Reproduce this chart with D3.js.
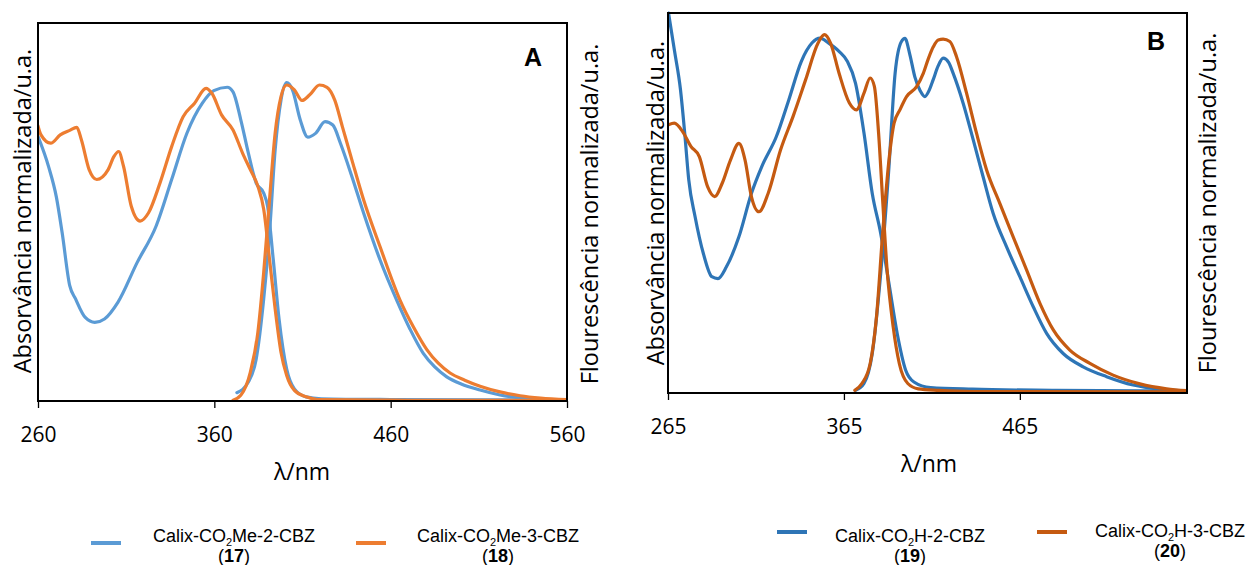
<!DOCTYPE html>
<html>
<head>
<meta charset="utf-8">
<script src="https://cdnjs.cloudflare.com/ajax/libs/d3/7.8.5/d3.min.js"></script>
<style>
  body { margin: 0; background: #fff; }
  svg { display: block; }
</style>
</head>
<body>
<div id="chart"></div>
<script>
// ---- data: [wavelength nm, normalized intensity] ----
// Panel A
var absA17 = [[260,0.70],[266,0.62],[270.4,0.54],[273.7,0.445],[278,0.305],[281.3,0.27],[286.8,0.221],[292.2,0.208],[297.7,0.217],[305.3,0.261],[316.2,0.366],[327,0.463],[335.8,0.586],[344.5,0.709],[353.2,0.788],[359.7,0.821],[367.3,0.83],[370.6,0.818],[375,0.744],[379.3,0.656],[383.7,0.577],[388,0.55],[390.2,0.515],[393.4,0.375],[396.7,0.217],[401,0.085],[405.4,0.032],[412,0.011],[420.7,0.006],[460,0.004],[520,0.003],[560,0.003]];
var fluA17 = [[372.8,0.022],[379.3,0.05],[383.7,0.11],[388,0.27],[391.3,0.445],[394.5,0.665],[397.8,0.796],[401,0.842],[404.3,0.823],[408.7,0.744],[413,0.698],[417.4,0.708],[422.8,0.739],[427.2,0.73],[431.5,0.682],[438,0.594],[444.6,0.498],[454,0.373],[463.4,0.267],[471,0.19],[478.5,0.126],[485,0.09],[491.8,0.064],[500,0.045],[510.7,0.029],[522,0.016],[533.4,0.008],[545,0.004],[560,0.002]];
var absA18 = [[260,0.728],[261.7,0.704],[267.2,0.682],[272.6,0.704],[278,0.716],[282,0.724],[284.6,0.691],[289,0.612],[293.3,0.586],[299.8,0.612],[303.1,0.647],[305.7,0.66],[308.5,0.621],[312.9,0.515],[317.9,0.476],[322.7,0.498],[329.2,0.577],[335.8,0.673],[342.3,0.752],[348.8,0.788],[355.3,0.827],[358.6,0.814],[364.1,0.757],[370.6,0.717],[376,0.656],[380.4,0.612],[384.7,0.568],[388,0.507],[391.3,0.375],[394.5,0.243],[397.8,0.129],[401,0.068],[405.4,0.028],[412,0.011],[418.5,0.004],[470,0.002],[560,0.002]];
var fluA18 = [[370.6,0.002],[375,0.015],[380.4,0.076],[384.7,0.182],[388,0.34],[391.3,0.533],[394.5,0.709],[397.8,0.805],[401,0.836],[405.4,0.823],[409.7,0.795],[414.1,0.81],[419.6,0.836],[423.9,0.83],[428.3,0.796],[432.6,0.726],[438,0.638],[444.6,0.533],[454,0.408],[465.3,0.267],[473,0.195],[480.5,0.136],[487,0.1],[493.7,0.074],[502,0.055],[510.7,0.039],[522,0.024],[533.4,0.014],[545,0.008],[560,0.004]];

// Panel B
var absB19 = [[265.3,1.0],[268.6,0.903],[272.1,0.798],[274.5,0.684],[276.8,0.561],[280.4,0.464],[285.1,0.367],[289.9,0.306],[293.4,0.301],[298.2,0.332],[305.3,0.411],[312.4,0.525],[318.3,0.596],[326.6,0.675],[333.7,0.772],[340.8,0.873],[346.8,0.921],[351.5,0.934],[356.2,0.921],[362.2,0.899],[366.9,0.873],[371.6,0.815],[376.4,0.684],[381.1,0.525],[385.9,0.42],[390.6,0.288],[395.3,0.156],[400.1,0.06],[404.8,0.029],[414.3,0.014],[438,0.01],[485.4,0.007],[560,0.005]];
var fluB19 = [[371.6,0.007],[376.4,0.025],[381.1,0.104],[385.9,0.315],[390.6,0.596],[394.1,0.842],[397.7,0.925],[399.7,0.933],[402.5,0.89],[405.3,0.832],[408.4,0.795],[411,0.78],[413.5,0.797],[415.7,0.824],[418.5,0.86],[421.4,0.881],[424.5,0.87],[427.1,0.841],[432.8,0.762],[438.5,0.666],[444.1,0.569],[449.8,0.473],[457.4,0.385],[465,0.306],[472.6,0.227],[480.2,0.157],[489.6,0.104],[501,0.069],[514.3,0.043],[529.4,0.021],[544.5,0.01],[560,0.005]];
var absB20 = [[265.3,0.706],[268.6,0.71],[273.3,0.688],[278,0.649],[282.8,0.622],[287.5,0.543],[291.5,0.517],[295.8,0.552],[300.5,0.613],[305.3,0.657],[308.8,0.613],[312.4,0.517],[316.7,0.477],[321.9,0.525],[329,0.64],[336.1,0.728],[343.2,0.824],[350.3,0.921],[353.9,0.943],[357.4,0.921],[362.2,0.842],[368.1,0.763],[372.1,0.745],[376.4,0.789],[379.9,0.829],[382.3,0.807],[384.7,0.684],[387,0.508],[389.4,0.332],[393,0.174],[396.5,0.077],[401.3,0.025],[407.2,0.011],[419,0.007],[438,0.004],[560,0.003]];
var fluB20 = [[371.2,0.007],[375.2,0.025],[379.9,0.077],[383.5,0.2],[387,0.42],[390.6,0.613],[393.5,0.71],[396.8,0.745],[400.6,0.78],[406.3,0.806],[410.1,0.841],[413,0.88],[415.8,0.911],[418.6,0.929],[421.4,0.931],[425.2,0.925],[429,0.885],[434.7,0.789],[440.4,0.683],[446.1,0.587],[453.6,0.499],[461.2,0.411],[468.8,0.324],[476.4,0.236],[484,0.166],[493.4,0.113],[504.8,0.078],[518,0.047],[533.2,0.024],[548.4,0.011],[560,0.006]];

var ticksA = [260, 360, 460, 560];
var ticksB = [265, 365, 465];

var svg = d3.select("#chart")
    .append("svg")
    .attr("width", 1250)
    .attr("height", 565);

var tickFont = "'Open Sans', 'DejaVu Sans', sans-serif";
var legFont = "'Liberation Sans', Arial, sans-serif";

function drawPanel(p) {
    var x = d3.scaleLinear().domain(p.domain).range([p.left, p.right]);
    var y = d3.scaleLinear().domain([0, 1]).range([p.bottom, p.top]);

    var line = d3.line()
        .x(d => x(d[0]))
        .y(d => y(d[1]))
        .curve(d3.curveMonotoneX);

    // curves (clipped to the box)
    var clipId = "clip" + p.name;
    svg.append("clipPath").attr("id", clipId)
        .append("rect")
        .attr("x", p.left).attr("y", p.top - 2)
        .attr("width", p.right - p.left).attr("height", p.bottom - p.top + 2);

    var g = svg.append("g").attr("clip-path", `url(#${clipId})`);
    p.series.forEach(function (s) {
        g.append("path")
            .datum(s.data)
            .attr("d", line)
            .attr("fill", "none")
            .attr("stroke", s.color)
            .attr("stroke-width", 3.2)
            .attr("stroke-linejoin", "round")
            .attr("stroke-linecap", "round");
    });

    // box
    svg.append("rect")
        .attr("x", p.left).attr("y", p.top)
        .attr("width", p.right - p.left).attr("height", p.bottom - p.top)
        .attr("fill", "none")
        .attr("stroke", "#000")
        .attr("stroke-width", 2);

    // x axis
    var axis = svg.append("g")
        .attr("transform", `translate(0, ${p.bottom})`)
        .call(d3.axisBottom(x).tickValues(p.ticks).tickSize(7).tickFormat(d3.format("d")));
    axis.select(".domain").remove();
    axis.selectAll(".tick line").attr("stroke", "#000").attr("stroke-width", 1.3);
    axis.selectAll(".tick text")
        .attr("y", 41).attr("dy", 0)
        .attr("font-family", tickFont)
        .attr("font-size", "21px")
        .attr("fill", "#000");

    svg.append("text")
        .attr("x", p.xTitleX).attr("y", p.bottom + 79)
        .attr("text-anchor", "middle")
        .attr("font-family", tickFont)
        .attr("font-size", "23px")
        .text("λ/nm");

    // y titles
    svg.append("text")
        .attr("transform", `translate(${p.left - p.leftGap}, ${p.yMid}) rotate(-90)`)
        .attr("text-anchor", "middle")
        .attr("font-family", tickFont)
        .attr("font-size", "23.5px")
        .text("Absorvância normalizada/u.a.");
    svg.append("text")
        .attr("transform", `translate(${p.right + p.rightGap}, ${p.yMid2}) rotate(-90)`)
        .attr("text-anchor", "middle")
        .attr("font-family", tickFont)
        .attr("font-size", "23.5px")
        .text("Flourescência normalizada/u.a.");

    // panel letter
    svg.append("text")
        .attr("x", p.letterX).attr("y", p.letterY)
        .attr("text-anchor", "middle")
        .attr("font-family", legFont)
        .attr("font-weight", "bold")
        .attr("font-size", "25px")
        .text(p.name);

    // legend
    p.legend.forEach(function (l) {
        svg.append("line")
            .attr("x1", l.lx).attr("x2", l.lx + 30)
            .attr("y1", l.ly).attr("y2", l.ly)
            .attr("stroke", l.color)
            .attr("stroke-width", 4);
        var t = svg.append("text")
            .attr("x", l.tx).attr("y", l.ty)
            .attr("text-anchor", "middle")
            .attr("font-family", legFont)
            .attr("font-size", "18px");
        t.append("tspan").text(l.pre);
        t.append("tspan").attr("font-size", "11px").attr("dy", 4).text("2");
        t.append("tspan").attr("dy", -4).text(l.post);
        var n = svg.append("text")
            .attr("x", l.tx).attr("y", l.ty + 20)
            .attr("text-anchor", "middle")
            .attr("font-family", legFont)
            .attr("font-size", "18px");
        n.append("tspan").text("(");
        n.append("tspan").attr("font-weight", "bold").text(l.num);
        n.append("tspan").text(")");
    });
}

drawPanel({
    name: "A",
    domain: [260, 560], ticks: ticksA,
    left: 38, right: 567, top: 23, bottom: 401,
    xTitleX: 302, yMid: 211, yMid2: 214, leftGap: 7, rightGap: 31,
    letterX: 533, letterY: 66,
    series: [
        { data: absA17, color: "#5B9BD5" },
        { data: fluA17, color: "#5B9BD5" },
        { data: absA18, color: "#ED7D31" },
        { data: fluA18, color: "#ED7D31" }
    ],
    legend: [
        { lx: 91, ly: 543, color: "#5B9BD5", tx: 234, ty: 542, pre: "Calix-CO", post: "Me-2-CBZ", num: "17" },
        { lx: 356, ly: 543, color: "#ED7D31", tx: 498, ty: 542, pre: "Calix-CO", post: "Me-3-CBZ", num: "18" }
    ]
});

drawPanel({
    name: "B",
    domain: [265, 560], ticks: ticksB,
    left: 668, right: 1187, top: 13, bottom: 393,
    xTitleX: 929, yMid: 203, yMid2: 203, leftGap: 4, rightGap: 29,
    letterX: 1156, letterY: 50,
    series: [
        { data: absB19, color: "#2E75B6" },
        { data: fluB19, color: "#2E75B6" },
        { data: absB20, color: "#C55A11" },
        { data: fluB20, color: "#C55A11" }
    ],
    legend: [
        { lx: 777, ly: 532, color: "#2E75B6", tx: 910, ty: 542, pre: "Calix-CO", post: "H-2-CBZ", num: "19" },
        { lx: 1037, ly: 532, color: "#C55A11", tx: 1170, ty: 537, pre: "Calix-CO", post: "H-3-CBZ", num: "20" }
    ]
});
</script>
</body>
</html>
